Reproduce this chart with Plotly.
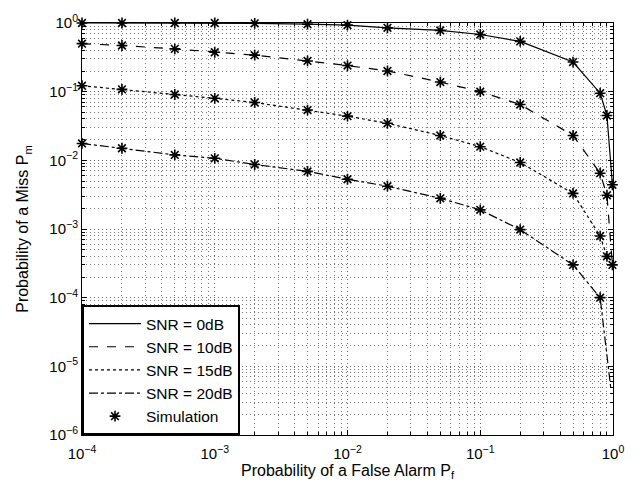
import plotly.graph_objects as go

# ---- data ----
pf = [1e-4, 2e-4, 5e-4, 1e-3, 2e-3, 5e-3, 1e-2, 2e-2, 5e-2, 0.1, 0.2, 0.5, 0.8, 0.9, 0.99]
pm_0dB = [1.0, 1.0, 1.0, 1.0, 0.99, 0.96, 0.93, 0.85, 0.78, 0.68, 0.54, 0.27, 0.095, 0.045, 0.0044]
pm_10dB = [0.50, 0.47, 0.42, 0.375, 0.34, 0.28, 0.24, 0.20, 0.138, 0.10, 0.065, 0.023, 0.0065, 0.0031, 3.0e-4]
pm_15dB = [0.122, 0.108, 0.091, 0.080, 0.0695, 0.054, 0.044, 0.0346, 0.023, 0.0158, 0.0093, 0.0033, 7.9e-4, 4.0e-4, None]
pm_20dB = [0.0176, 0.015, 0.012, 0.0107, 0.0087, 0.0069, 0.0053, 0.0042, 0.0028, 0.0019, 9.8e-4, 3.0e-4, 1.0e-4, None, None]

# theory-curve tails (line continues past last simulated point)
tail_pf_20dB = [0.96]
tail_pm_20dB = [5e-6]

series_names = ["SNR = 0dB", "SNR = 10dB", "SNR = 15dB", "SNR = 20dB"]
series_vals = [pm_0dB, pm_10dB, pm_15dB, pm_20dB]
series_tails = [([], []), ([], []), ([], []), (tail_pf_20dB, tail_pm_20dB)]
dashes = ["solid", "dash", "dot", "dashdot"]

x_exponents = [-4, -3, -2, -1, 0]
y_exponents = [-6, -5, -4, -3, -2, -1, 0]

FONT = "Liberation Sans, Arial, sans-serif"


def decade_ticks(exps):
    vals = [10.0 ** e for e in exps]
    text = ["10<sup>%s</sup>" % (str(e).replace("-", "−")) for e in exps]
    minor = [m * 10.0 ** e for e in exps[:-1] for m in range(2, 10)]
    return vals, text, minor


fig = go.Figure()

for name, vals, (tx, ty), dsh in zip(series_names, series_vals, series_tails, dashes):
    xs = [x for x, y in zip(pf, vals) if y is not None] + list(tx)
    ys = [y for y in vals if y is not None] + list(ty)
    fig.add_trace(go.Scatter(x=xs, y=ys, mode="lines", name=name,
                             line=dict(color="black", width=1.2, dash=dsh)))

for i, vals in enumerate(series_vals):
    xs = [x for x, y in zip(pf, vals) if y is not None]
    ys = [y for y in vals if y is not None]
    fig.add_trace(go.Scatter(x=xs, y=ys, mode="markers", name="Simulation",
                             legendgroup="sim", showlegend=(i == 0),
                             marker=dict(symbol="asterisk-open", size=9, color="black",
                                         line=dict(color="black", width=1.6)),
                             cliponaxis=False))


def axis_style(exps):
    vals, text, minor = decade_ticks(exps)
    return dict(type="log", showline=True, linecolor="black", linewidth=1, mirror="allticks",
                ticks="inside", ticklen=5, tickcolor="black",
                tickmode="array", tickvals=vals, ticktext=text,
                showgrid=True, gridcolor="#666666", gridwidth=1, griddash="1px,3px",
                zeroline=False,
                tickfont=dict(family=FONT, size=15, color="black"),
                minor=dict(tickmode="array", tickvals=minor, ticks="inside", ticklen=3,
                           tickcolor="black", showgrid=True,
                           gridcolor="#777777", gridwidth=1, griddash="1px,3px"))


fig.update_xaxes(range=[-4, 0], ticklabelstandoff=5,
                 title=dict(text="Probability of a False Alarm P<sub>f</sub>",
                            font=dict(family=FONT, size=16, color="black"),
                            standoff=0),
                 **axis_style(x_exponents))
fig.update_yaxes(range=[-6, 0],
                 title=dict(text="Probability of a Miss P<sub>m</sub>",
                            font=dict(family=FONT, size=16, color="black"),
                            standoff=16),
                 **axis_style(y_exponents))

fig.update_layout(
    width=639, height=490,
    margin=dict(l=82, r=26, t=17, b=55),
    paper_bgcolor="white", plot_bgcolor="white",
    font=dict(family=FONT, size=16, color="black"),
    legend=dict(x=0, y=0, xanchor="left", yanchor="bottom",
                bgcolor="white", bordercolor="black", borderwidth=2,
                font=dict(family=FONT, size=15.5, color="black"), itemwidth=52,
                tracegroupgap=0),
)

fig.write_html("out.html")
